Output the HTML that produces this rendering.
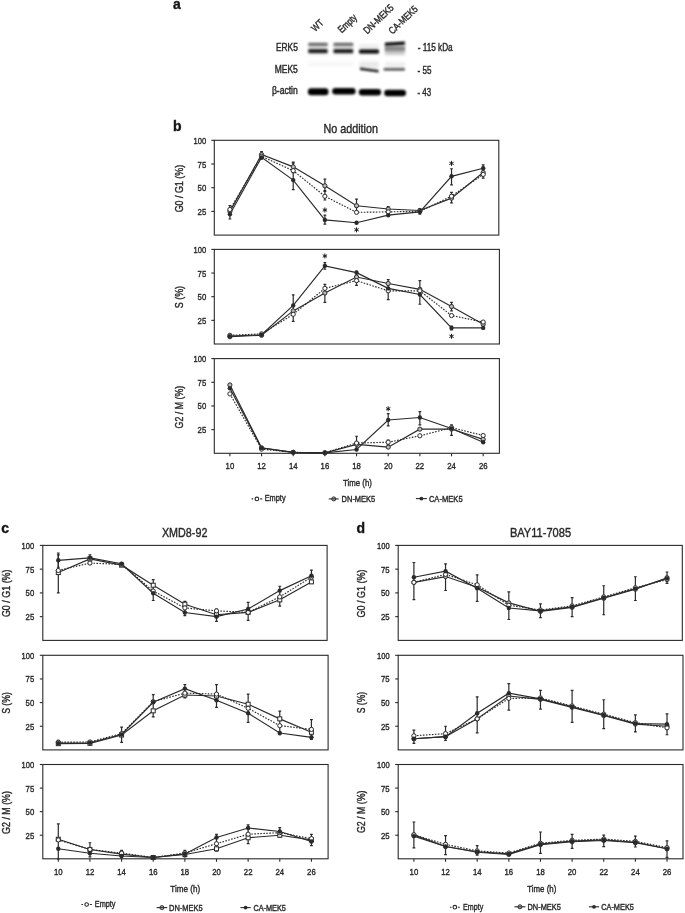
<!DOCTYPE html>
<html><head><meta charset="utf-8"><title>Figure</title><style>html,body{margin:0;padding:0;background:#fff;}body{width:685px;height:913px;overflow:hidden;font-family:"Liberation Sans",sans-serif;}svg{display:block;will-change:transform;}</style></head><body>
<svg width="685" height="913" viewBox="0 0 685 913" font-family="Liberation Sans, sans-serif" fill="#262626">
<rect width="685" height="913" fill="#fff"/>
<style>text{stroke:#2a2a2a;stroke-width:0.4px;}</style>
<defs><filter id="bl" x="-20%" y="-50%" width="140%" height="200%"><feGaussianBlur stdDeviation="0.85"/></filter><filter id="bl2" x="-20%" y="-50%" width="140%" height="200%"><feGaussianBlur stdDeviation="1.0"/></filter><filter id="bl3" x="-30%" y="-80%" width="160%" height="260%"><feGaussianBlur stdDeviation="1.6"/></filter></defs>
<g filter="url(#bl3)">
<rect x="308.3" y="42.5" width="19.3" height="12" fill="#d4d4d4"/>
<rect x="333.5" y="42.5" width="19.7" height="12" fill="#d4d4d4"/>
<rect x="359.0" y="44.5" width="20.0" height="10" fill="#ececec"/>
<rect x="385.0" y="43" width="19.8" height="12" fill="#c8c8c8"/>
<rect x="359.5" y="61.5" width="19" height="6.5" fill="#e9e9e9"/>
<rect x="385" y="62" width="20" height="6.5" fill="#efefef"/>
<rect x="308" y="61" width="46" height="6" fill="#f8f8f8"/>
</g>
<g filter="url(#bl)">
<rect x="308.3" y="43.0" width="19.3" height="2.8" rx="1.2" fill="#6a6a6a"/>
<rect x="308.3" y="49.2" width="19.3" height="3.7" rx="1.5" fill="#1a1a1a"/>
<rect x="333.5" y="43.0" width="19.7" height="2.8" rx="1.2" fill="#6a6a6a"/>
<rect x="333.5" y="49.2" width="19.7" height="3.7" rx="1.5" fill="#1a1a1a"/>
<rect x="359.0" y="49.6" width="20.0" height="3.9" rx="1.6" fill="#080808"/>
<path d="M385.0,42.7 L404.8,41.5 L404.8,44.8 L385.0,46.0 Z" fill="#0a0a0a"/>
<rect x="385.0" y="46.6" width="19.8" height="2.2" fill="#7c7c7c"/>
<rect x="385.0" y="48.8" width="19.8" height="2.4" fill="#8e8e8e"/>
<path d="M360,67.5 L378.5,69.9 L378.5,72.4 L360,70.0 Z" fill="#1e1e1e"/>
<rect x="383.5" y="67.9" width="21.5" height="2.8" rx="1" fill="#5e5e5e"/>
</g>
<g filter="url(#bl2)">
<rect x="307.9" y="88.3" width="20.6" height="6.9" rx="3.2" fill="#000"/>
<rect x="332.2" y="87.9" width="23.4" height="6.6" rx="3.2" fill="#000"/>
<rect x="358.8" y="89.0" width="22.3" height="6.4" rx="3.2" fill="#000"/>
<rect x="384.2" y="89.7" width="21.8" height="6.5" rx="3.2" fill="#000"/>
</g>
<text x="275.9" y="51" font-size="10" textLength="21.9" lengthAdjust="spacingAndGlyphs">ERK5</text>
<text x="274.7" y="73.3" font-size="10" textLength="23.1" lengthAdjust="spacingAndGlyphs">MEK5</text>
<text x="271.9" y="94.2" font-size="10" textLength="25.9" lengthAdjust="spacingAndGlyphs">β-actin</text>
<text x="417.7" y="51.4" font-size="10" textLength="35" lengthAdjust="spacingAndGlyphs">- 115 kDa</text>
<text x="417.5" y="73.8" font-size="10" textLength="13.9" lengthAdjust="spacingAndGlyphs">- 55</text>
<text x="417.5" y="96.2" font-size="10" textLength="13.6" lengthAdjust="spacingAndGlyphs">- 43</text>
<text x="315.3" y="32.3" font-size="10" textLength="12.3" lengthAdjust="spacingAndGlyphs" transform="rotate(-44 315.3 32.3)">WT</text>
<text x="341.8" y="33.6" font-size="10" textLength="22.0" lengthAdjust="spacingAndGlyphs" transform="rotate(-44 341.8 33.6)">Empty</text>
<text x="367.3" y="34.6" font-size="10" textLength="37.5" lengthAdjust="spacingAndGlyphs" transform="rotate(-44 367.3 34.6)">DN-MEK5</text>
<text x="392.5" y="34.8" font-size="10" textLength="36.0" lengthAdjust="spacingAndGlyphs" transform="rotate(-44 392.5 34.8)">CA-MEK5</text>
<text x="173" y="8.8" font-size="14" font-weight="bold" fill="#111">a</text>
<text x="173" y="130.9" font-size="14" font-weight="bold" fill="#111">b</text>
<text x="1.2" y="533" font-size="14" font-weight="bold" fill="#111">c</text>
<text x="356.5" y="532.8" font-size="14" font-weight="bold" fill="#111">d</text>
<rect x="214.3" y="140.3" width="284.5" height="94.8" fill="none" stroke="#2a2a2a" stroke-width="1.1"/>
<line x1="211.3" y1="140.3" x2="214.3" y2="140.3" stroke="#2a2a2a" stroke-width="1.1"/>
<text x="193.6" y="143.8" font-size="9.9" textLength="12.6" lengthAdjust="spacingAndGlyphs">100</text>
<line x1="211.3" y1="164" x2="214.3" y2="164" stroke="#2a2a2a" stroke-width="1.1"/>
<text x="197.6" y="167.5" font-size="9.9" textLength="8.6" lengthAdjust="spacingAndGlyphs">75</text>
<line x1="211.3" y1="187.7" x2="214.3" y2="187.7" stroke="#2a2a2a" stroke-width="1.1"/>
<text x="197.6" y="191.2" font-size="9.9" textLength="8.6" lengthAdjust="spacingAndGlyphs">50</text>
<line x1="211.3" y1="211.4" x2="214.3" y2="211.4" stroke="#2a2a2a" stroke-width="1.1"/>
<text x="197.6" y="214.9" font-size="9.9" textLength="8.6" lengthAdjust="spacingAndGlyphs">25</text>
<path d="M229.9,209.5 L261.56,156.42 L293.22,170.64 L324.88,196.23 L356.54,212.35 L388.2,211.87 L419.86,211.4 L451.52,196.23 L483.18,174.43" fill="none" stroke="#2a2a2a" stroke-width="1.15" stroke-dasharray="1.6 1.4"/>
<path d="M229.9,211.4 L261.56,154.52 L293.22,166.84 L324.88,185.8 L356.54,205.71 L388.2,209.03 L419.86,210.45 L451.52,198.13 L483.18,172.53" fill="none" stroke="#2a2a2a" stroke-width="1.15"/>
<path d="M229.9,214.24 L261.56,157.36 L293.22,180.12 L324.88,219.93 L356.54,222.78 L388.2,215.19 L419.86,211.87 L451.52,176.32 L483.18,168.27" fill="none" stroke="#2a2a2a" stroke-width="1.15"/>
<path d="M324.88,190.54 L324.88,200.02 M323.48,190.54 L326.28,190.54 M323.48,200.02 L326.28,200.02" stroke="#2a2a2a" stroke-width="1.2" fill="none"/>
<path d="M451.52,192.44 L451.52,202.87 M450.12,192.44 L452.92,192.44 M450.12,202.87 L452.92,202.87" stroke="#2a2a2a" stroke-width="1.2" fill="none"/>
<path d="M483.18,164.95 L483.18,178.22 M481.78,164.95 L484.58,164.95 M481.78,178.22 L484.58,178.22" stroke="#2a2a2a" stroke-width="1.2" fill="none"/>
<path d="M261.56,151.68 L261.56,159.26 M260.16,151.68 L262.96,151.68 M260.16,159.26 L262.96,159.26" stroke="#2a2a2a" stroke-width="1.2" fill="none"/>
<path d="M293.22,163.05 L293.22,172.53 M291.82,163.05 L294.62,163.05 M291.82,172.53 L294.62,172.53" stroke="#2a2a2a" stroke-width="1.2" fill="none"/>
<path d="M324.88,179.17 L324.88,191.49 M323.48,179.17 L326.28,179.17 M323.48,191.49 L326.28,191.49" stroke="#2a2a2a" stroke-width="1.2" fill="none"/>
<path d="M356.54,199.08 L356.54,212.35 M355.14,199.08 L357.94,199.08 M355.14,212.35 L357.94,212.35" stroke="#2a2a2a" stroke-width="1.2" fill="none"/>
<path d="M388.2,206.66 L388.2,212.35 M386.8,206.66 L389.6,206.66 M386.8,212.35 L389.6,212.35" stroke="#2a2a2a" stroke-width="1.2" fill="none"/>
<path d="M419.86,208.56 L419.86,214.24 M418.46,208.56 L421.26,208.56 M418.46,214.24 L421.26,214.24" stroke="#2a2a2a" stroke-width="1.2" fill="none"/>
<path d="M229.9,205.71 L229.9,218.98 M228.5,205.71 L231.3,205.71 M228.5,218.98 L231.3,218.98" stroke="#2a2a2a" stroke-width="1.2" fill="none"/>
<path d="M293.22,162.1 L293.22,189.6 M291.82,162.1 L294.62,162.1 M291.82,189.6 L294.62,189.6" stroke="#2a2a2a" stroke-width="1.2" fill="none"/>
<path d="M324.88,215.19 L324.88,224.2 M323.48,215.19 L326.28,215.19 M323.48,224.2 L326.28,224.2" stroke="#2a2a2a" stroke-width="1.2" fill="none"/>
<path d="M451.52,168.74 L451.52,184.86 M450.12,168.74 L452.92,168.74 M450.12,184.86 L452.92,184.86" stroke="#2a2a2a" stroke-width="1.2" fill="none"/>
<circle cx="229.9" cy="211.4" r="2.1" fill="#bbb" stroke="#2a2a2a" stroke-width="1"/>
<circle cx="261.56" cy="154.52" r="2.1" fill="#bbb" stroke="#2a2a2a" stroke-width="1"/>
<circle cx="293.22" cy="166.84" r="2.1" fill="#bbb" stroke="#2a2a2a" stroke-width="1"/>
<circle cx="324.88" cy="185.8" r="2.1" fill="#bbb" stroke="#2a2a2a" stroke-width="1"/>
<circle cx="356.54" cy="205.71" r="2.1" fill="#bbb" stroke="#2a2a2a" stroke-width="1"/>
<circle cx="388.2" cy="209.03" r="2.1" fill="#bbb" stroke="#2a2a2a" stroke-width="1"/>
<circle cx="419.86" cy="210.45" r="2.1" fill="#bbb" stroke="#2a2a2a" stroke-width="1"/>
<circle cx="451.52" cy="198.13" r="2.1" fill="#bbb" stroke="#2a2a2a" stroke-width="1"/>
<circle cx="483.18" cy="172.53" r="2.1" fill="#bbb" stroke="#2a2a2a" stroke-width="1"/>
<circle cx="229.9" cy="209.5" r="2.1" fill="#fff" stroke="#2a2a2a" stroke-width="1"/>
<circle cx="261.56" cy="156.42" r="2.1" fill="#fff" stroke="#2a2a2a" stroke-width="1"/>
<circle cx="293.22" cy="170.64" r="2.1" fill="#fff" stroke="#2a2a2a" stroke-width="1"/>
<circle cx="324.88" cy="196.23" r="2.1" fill="#fff" stroke="#2a2a2a" stroke-width="1"/>
<circle cx="356.54" cy="212.35" r="2.1" fill="#fff" stroke="#2a2a2a" stroke-width="1"/>
<circle cx="388.2" cy="211.87" r="2.1" fill="#fff" stroke="#2a2a2a" stroke-width="1"/>
<circle cx="419.86" cy="211.4" r="2.1" fill="#fff" stroke="#2a2a2a" stroke-width="1"/>
<circle cx="451.52" cy="196.23" r="2.1" fill="#fff" stroke="#2a2a2a" stroke-width="1"/>
<circle cx="483.18" cy="174.43" r="2.1" fill="#fff" stroke="#2a2a2a" stroke-width="1"/>
<circle cx="229.9" cy="214.24" r="2.2" fill="#2a2a2a"/>
<circle cx="261.56" cy="157.36" r="2.2" fill="#2a2a2a"/>
<circle cx="293.22" cy="180.12" r="2.2" fill="#2a2a2a"/>
<circle cx="324.88" cy="219.93" r="2.2" fill="#2a2a2a"/>
<circle cx="356.54" cy="222.78" r="2.2" fill="#2a2a2a"/>
<circle cx="388.2" cy="215.19" r="2.2" fill="#2a2a2a"/>
<circle cx="419.86" cy="211.87" r="2.2" fill="#2a2a2a"/>
<circle cx="451.52" cy="176.32" r="2.2" fill="#2a2a2a"/>
<circle cx="483.18" cy="168.27" r="2.2" fill="#2a2a2a"/>
<rect x="214.3" y="249.4" width="285.1" height="94.6" fill="none" stroke="#2a2a2a" stroke-width="1.1"/>
<line x1="211.3" y1="249.4" x2="214.3" y2="249.4" stroke="#2a2a2a" stroke-width="1.1"/>
<text x="193.6" y="252.9" font-size="9.9" textLength="12.6" lengthAdjust="spacingAndGlyphs">100</text>
<line x1="211.3" y1="273.05" x2="214.3" y2="273.05" stroke="#2a2a2a" stroke-width="1.1"/>
<text x="197.6" y="276.55" font-size="9.9" textLength="8.6" lengthAdjust="spacingAndGlyphs">75</text>
<line x1="211.3" y1="296.7" x2="214.3" y2="296.7" stroke="#2a2a2a" stroke-width="1.1"/>
<text x="197.6" y="300.2" font-size="9.9" textLength="8.6" lengthAdjust="spacingAndGlyphs">50</text>
<line x1="211.3" y1="320.35" x2="214.3" y2="320.35" stroke="#2a2a2a" stroke-width="1.1"/>
<text x="197.6" y="323.85" font-size="9.9" textLength="8.6" lengthAdjust="spacingAndGlyphs">25</text>
<path d="M229.9,335.3 L261.56,333.88 L293.22,314.3 L324.88,288.38 L356.54,280.62 L388.2,290.83 L419.86,290.83 L451.52,315.53 L483.18,322.05" fill="none" stroke="#2a2a2a" stroke-width="1.15" stroke-dasharray="1.6 1.4"/>
<path d="M229.9,336.72 L261.56,335.3 L293.22,310.89 L324.88,293.01 L356.54,277.02 L388.2,283.55 L419.86,289.32 L451.52,306.54 L483.18,324.32" fill="none" stroke="#2a2a2a" stroke-width="1.15"/>
<path d="M229.9,336.15 L261.56,334.73 L293.22,305.4 L324.88,265.86 L356.54,272.67 L388.2,288.38 L419.86,294.52 L451.52,327.92 L483.18,327.92" fill="none" stroke="#2a2a2a" stroke-width="1.15"/>
<path d="M293.22,294.81 L293.22,321.3 M291.82,294.81 L294.62,294.81 M291.82,321.3 L294.62,321.3" stroke="#2a2a2a" stroke-width="1.2" fill="none"/>
<path d="M324.88,284.4 L324.88,302.38 M323.48,284.4 L326.28,284.4 M323.48,302.38 L326.28,302.38" stroke="#2a2a2a" stroke-width="1.2" fill="none"/>
<path d="M356.54,271.16 L356.54,285.35 M355.14,271.16 L357.94,271.16 M355.14,285.35 L357.94,285.35" stroke="#2a2a2a" stroke-width="1.2" fill="none"/>
<path d="M388.2,279.67 L388.2,299.54 M386.8,279.67 L389.6,279.67 M386.8,299.54 L389.6,299.54" stroke="#2a2a2a" stroke-width="1.2" fill="none"/>
<path d="M419.86,280.62 L419.86,304.27 M418.46,280.62 L421.26,280.62 M418.46,304.27 L421.26,304.27" stroke="#2a2a2a" stroke-width="1.2" fill="none"/>
<path d="M451.52,302.38 L451.52,310.89 M450.12,302.38 L452.92,302.38 M450.12,310.89 L452.92,310.89" stroke="#2a2a2a" stroke-width="1.2" fill="none"/>
<path d="M324.88,262.64 L324.88,269.27 M323.48,262.64 L326.28,262.64 M323.48,269.27 L326.28,269.27" stroke="#2a2a2a" stroke-width="1.2" fill="none"/>
<path d="M451.52,326.03 L451.52,329.81 M450.12,326.03 L452.92,326.03 M450.12,329.81 L452.92,329.81" stroke="#2a2a2a" stroke-width="1.2" fill="none"/>
<circle cx="229.9" cy="336.72" r="2.1" fill="#bbb" stroke="#2a2a2a" stroke-width="1"/>
<circle cx="261.56" cy="335.3" r="2.1" fill="#bbb" stroke="#2a2a2a" stroke-width="1"/>
<circle cx="293.22" cy="310.89" r="2.1" fill="#bbb" stroke="#2a2a2a" stroke-width="1"/>
<circle cx="324.88" cy="293.01" r="2.1" fill="#bbb" stroke="#2a2a2a" stroke-width="1"/>
<circle cx="356.54" cy="277.02" r="2.1" fill="#bbb" stroke="#2a2a2a" stroke-width="1"/>
<circle cx="388.2" cy="283.55" r="2.1" fill="#bbb" stroke="#2a2a2a" stroke-width="1"/>
<circle cx="419.86" cy="289.32" r="2.1" fill="#bbb" stroke="#2a2a2a" stroke-width="1"/>
<circle cx="451.52" cy="306.54" r="2.1" fill="#bbb" stroke="#2a2a2a" stroke-width="1"/>
<circle cx="483.18" cy="324.32" r="2.1" fill="#bbb" stroke="#2a2a2a" stroke-width="1"/>
<circle cx="229.9" cy="335.3" r="2.1" fill="#fff" stroke="#2a2a2a" stroke-width="1"/>
<circle cx="261.56" cy="333.88" r="2.1" fill="#fff" stroke="#2a2a2a" stroke-width="1"/>
<circle cx="293.22" cy="314.3" r="2.1" fill="#fff" stroke="#2a2a2a" stroke-width="1"/>
<circle cx="324.88" cy="288.38" r="2.1" fill="#fff" stroke="#2a2a2a" stroke-width="1"/>
<circle cx="356.54" cy="280.62" r="2.1" fill="#fff" stroke="#2a2a2a" stroke-width="1"/>
<circle cx="388.2" cy="290.83" r="2.1" fill="#fff" stroke="#2a2a2a" stroke-width="1"/>
<circle cx="419.86" cy="290.83" r="2.1" fill="#fff" stroke="#2a2a2a" stroke-width="1"/>
<circle cx="451.52" cy="315.53" r="2.1" fill="#fff" stroke="#2a2a2a" stroke-width="1"/>
<circle cx="483.18" cy="322.05" r="2.1" fill="#fff" stroke="#2a2a2a" stroke-width="1"/>
<circle cx="229.9" cy="336.15" r="2.2" fill="#2a2a2a"/>
<circle cx="261.56" cy="334.73" r="2.2" fill="#2a2a2a"/>
<circle cx="293.22" cy="305.4" r="2.2" fill="#2a2a2a"/>
<circle cx="324.88" cy="265.86" r="2.2" fill="#2a2a2a"/>
<circle cx="356.54" cy="272.67" r="2.2" fill="#2a2a2a"/>
<circle cx="388.2" cy="288.38" r="2.2" fill="#2a2a2a"/>
<circle cx="419.86" cy="294.52" r="2.2" fill="#2a2a2a"/>
<circle cx="451.52" cy="327.92" r="2.2" fill="#2a2a2a"/>
<circle cx="483.18" cy="327.92" r="2.2" fill="#2a2a2a"/>
<rect x="214.3" y="358.6" width="285.1" height="94.7" fill="none" stroke="#2a2a2a" stroke-width="1.1"/>
<line x1="211.3" y1="358.6" x2="214.3" y2="358.6" stroke="#2a2a2a" stroke-width="1.1"/>
<text x="193.6" y="362.1" font-size="9.9" textLength="12.6" lengthAdjust="spacingAndGlyphs">100</text>
<line x1="211.3" y1="382.28" x2="214.3" y2="382.28" stroke="#2a2a2a" stroke-width="1.1"/>
<text x="197.6" y="385.78" font-size="9.9" textLength="8.6" lengthAdjust="spacingAndGlyphs">75</text>
<line x1="211.3" y1="405.95" x2="214.3" y2="405.95" stroke="#2a2a2a" stroke-width="1.1"/>
<text x="197.6" y="409.45" font-size="9.9" textLength="8.6" lengthAdjust="spacingAndGlyphs">50</text>
<line x1="211.3" y1="429.62" x2="214.3" y2="429.62" stroke="#2a2a2a" stroke-width="1.1"/>
<text x="197.6" y="433.12" font-size="9.9" textLength="8.6" lengthAdjust="spacingAndGlyphs">25</text>
<line x1="229.9" y1="453.3" x2="229.9" y2="456.3" stroke="#2a2a2a" stroke-width="1.1"/>
<text x="225.6" y="469.4" font-size="9.9" textLength="8.6" lengthAdjust="spacingAndGlyphs">10</text>
<line x1="261.56" y1="453.3" x2="261.56" y2="456.3" stroke="#2a2a2a" stroke-width="1.1"/>
<text x="257.26" y="469.4" font-size="9.9" textLength="8.6" lengthAdjust="spacingAndGlyphs">12</text>
<line x1="293.22" y1="453.3" x2="293.22" y2="456.3" stroke="#2a2a2a" stroke-width="1.1"/>
<text x="288.92" y="469.4" font-size="9.9" textLength="8.6" lengthAdjust="spacingAndGlyphs">14</text>
<line x1="324.88" y1="453.3" x2="324.88" y2="456.3" stroke="#2a2a2a" stroke-width="1.1"/>
<text x="320.58" y="469.4" font-size="9.9" textLength="8.6" lengthAdjust="spacingAndGlyphs">16</text>
<line x1="356.54" y1="453.3" x2="356.54" y2="456.3" stroke="#2a2a2a" stroke-width="1.1"/>
<text x="352.24" y="469.4" font-size="9.9" textLength="8.6" lengthAdjust="spacingAndGlyphs">18</text>
<line x1="388.2" y1="453.3" x2="388.2" y2="456.3" stroke="#2a2a2a" stroke-width="1.1"/>
<text x="383.9" y="469.4" font-size="9.9" textLength="8.6" lengthAdjust="spacingAndGlyphs">20</text>
<line x1="419.86" y1="453.3" x2="419.86" y2="456.3" stroke="#2a2a2a" stroke-width="1.1"/>
<text x="415.56" y="469.4" font-size="9.9" textLength="8.6" lengthAdjust="spacingAndGlyphs">22</text>
<line x1="451.52" y1="453.3" x2="451.52" y2="456.3" stroke="#2a2a2a" stroke-width="1.1"/>
<text x="447.22" y="469.4" font-size="9.9" textLength="8.6" lengthAdjust="spacingAndGlyphs">24</text>
<line x1="483.18" y1="453.3" x2="483.18" y2="456.3" stroke="#2a2a2a" stroke-width="1.1"/>
<text x="478.88" y="469.4" font-size="9.9" textLength="8.6" lengthAdjust="spacingAndGlyphs">26</text>
<path d="M229.9,393.92 L261.56,449.13 L293.22,452.35 L324.88,452.83 L356.54,443.07 L388.2,442.22 L419.86,435.78 L451.52,427.64 L483.18,435.5" fill="none" stroke="#2a2a2a" stroke-width="1.15" stroke-dasharray="1.6 1.4"/>
<path d="M229.9,384.93 L261.56,447.81 L293.22,452.35 L324.88,452.83 L356.54,444.4 L388.2,447.14 L419.86,429.15 L451.52,429.06 L483.18,439.38" fill="none" stroke="#2a2a2a" stroke-width="1.15"/>
<path d="M229.9,388.34 L261.56,448.09 L293.22,452.35 L324.88,452.83 L356.54,449.51 L388.2,419.97 L419.86,417.5 L451.52,428.49 L483.18,442.22" fill="none" stroke="#2a2a2a" stroke-width="1.15"/>
<path d="M356.54,436.25 L356.54,450.46 M355.14,436.25 L357.94,436.25 M355.14,450.46 L357.94,450.46" stroke="#2a2a2a" stroke-width="1.2" fill="none"/>
<path d="M388.2,440.04 L388.2,444.78 M386.8,440.04 L389.6,440.04 M386.8,444.78 L389.6,444.78" stroke="#2a2a2a" stroke-width="1.2" fill="none"/>
<path d="M451.52,424.89 L451.52,435.31 M450.12,424.89 L452.92,424.89 M450.12,435.31 L452.92,435.31" stroke="#2a2a2a" stroke-width="1.2" fill="none"/>
<path d="M388.2,413.53 L388.2,425.84 M386.8,413.53 L389.6,413.53 M386.8,425.84 L389.6,425.84" stroke="#2a2a2a" stroke-width="1.2" fill="none"/>
<path d="M419.86,411.63 L419.86,424.89 M418.46,411.63 L421.26,411.63 M418.46,424.89 L421.26,424.89" stroke="#2a2a2a" stroke-width="1.2" fill="none"/>
<circle cx="229.9" cy="384.93" r="2.1" fill="#bbb" stroke="#2a2a2a" stroke-width="1"/>
<circle cx="261.56" cy="447.81" r="2.1" fill="#bbb" stroke="#2a2a2a" stroke-width="1"/>
<circle cx="293.22" cy="452.35" r="2.1" fill="#bbb" stroke="#2a2a2a" stroke-width="1"/>
<circle cx="324.88" cy="452.83" r="2.1" fill="#bbb" stroke="#2a2a2a" stroke-width="1"/>
<circle cx="356.54" cy="444.4" r="2.1" fill="#bbb" stroke="#2a2a2a" stroke-width="1"/>
<circle cx="388.2" cy="447.14" r="2.1" fill="#bbb" stroke="#2a2a2a" stroke-width="1"/>
<circle cx="419.86" cy="429.15" r="2.1" fill="#bbb" stroke="#2a2a2a" stroke-width="1"/>
<circle cx="451.52" cy="429.06" r="2.1" fill="#bbb" stroke="#2a2a2a" stroke-width="1"/>
<circle cx="483.18" cy="439.38" r="2.1" fill="#bbb" stroke="#2a2a2a" stroke-width="1"/>
<circle cx="229.9" cy="393.92" r="2.1" fill="#fff" stroke="#2a2a2a" stroke-width="1"/>
<circle cx="261.56" cy="449.13" r="2.1" fill="#fff" stroke="#2a2a2a" stroke-width="1"/>
<circle cx="293.22" cy="452.35" r="2.1" fill="#fff" stroke="#2a2a2a" stroke-width="1"/>
<circle cx="324.88" cy="452.83" r="2.1" fill="#fff" stroke="#2a2a2a" stroke-width="1"/>
<circle cx="356.54" cy="443.07" r="2.1" fill="#fff" stroke="#2a2a2a" stroke-width="1"/>
<circle cx="388.2" cy="442.22" r="2.1" fill="#fff" stroke="#2a2a2a" stroke-width="1"/>
<circle cx="419.86" cy="435.78" r="2.1" fill="#fff" stroke="#2a2a2a" stroke-width="1"/>
<circle cx="451.52" cy="427.64" r="2.1" fill="#fff" stroke="#2a2a2a" stroke-width="1"/>
<circle cx="483.18" cy="435.5" r="2.1" fill="#fff" stroke="#2a2a2a" stroke-width="1"/>
<circle cx="229.9" cy="388.34" r="2.2" fill="#2a2a2a"/>
<circle cx="261.56" cy="448.09" r="2.2" fill="#2a2a2a"/>
<circle cx="293.22" cy="452.35" r="2.2" fill="#2a2a2a"/>
<circle cx="324.88" cy="452.83" r="2.2" fill="#2a2a2a"/>
<circle cx="356.54" cy="449.51" r="2.2" fill="#2a2a2a"/>
<circle cx="388.2" cy="419.97" r="2.2" fill="#2a2a2a"/>
<circle cx="419.86" cy="417.5" r="2.2" fill="#2a2a2a"/>
<circle cx="451.52" cy="428.49" r="2.2" fill="#2a2a2a"/>
<circle cx="483.18" cy="442.22" r="2.2" fill="#2a2a2a"/>
<text x="323.4" y="133.4" font-size="13.4" textLength="54.6" lengthAdjust="spacingAndGlyphs">No addition</text>
<text x="183.3" y="188.6" font-size="11" text-anchor="middle" textLength="47.5" lengthAdjust="spacingAndGlyphs" transform="rotate(-90 183.3 188.6)">G0 / G1 (%)</text>
<text x="183.3" y="297.1" font-size="11" text-anchor="middle" textLength="22.4" lengthAdjust="spacingAndGlyphs" transform="rotate(-90 183.3 297.1)">S (%)</text>
<text x="183.3" y="407.15" font-size="11" text-anchor="middle" textLength="42.6" lengthAdjust="spacingAndGlyphs" transform="rotate(-90 183.3 407.15)">G2 / M (%)</text>
<text x="343.1" y="486.1" font-size="9.9" textLength="28.8" lengthAdjust="spacingAndGlyphs">Time (h)</text>
<path d="M251.6,498.9 L253.2,498.9 M260.2,498.9 L262.2,498.9" stroke="#2a2a2a" stroke-width="1.1"/>
<circle cx="256.9" cy="498.9" r="1.8" fill="#fff" stroke="#2a2a2a" stroke-width="1.1"/>
<text x="264.7" y="501.4" font-size="9.3" textLength="20.9" lengthAdjust="spacingAndGlyphs">Empty</text>
<line x1="328.8" y1="498.9" x2="338.7" y2="498.9" stroke="#2a2a2a" stroke-width="1.1"/>
<circle cx="333.75" cy="498.9" r="2" fill="#bbb" stroke="#2a2a2a" stroke-width="1"/>
<line x1="331.75" y1="498.9" x2="335.75" y2="498.9" stroke="#2a2a2a" stroke-width="1"/>
<text x="341.6" y="501.6" font-size="9.3" textLength="33.6" lengthAdjust="spacingAndGlyphs">DN-MEK5</text>
<line x1="415.9" y1="498.6" x2="426.9" y2="498.6" stroke="#2a2a2a" stroke-width="1.1"/>
<circle cx="421.4" cy="498.6" r="1.9" fill="#2a2a2a"/>
<text x="428.9" y="501.8" font-size="9.3" textLength="33.7" lengthAdjust="spacingAndGlyphs">CA-MEK5</text>
<path d="M324.88,207.5 L324.88,212.5 M322.71,208.75 L327.05,211.25 M322.71,211.25 L327.05,208.75" stroke="#1a1a1a" stroke-width="1.0" fill="none"/>
<path d="M356.54,227.3 L356.54,232.3 M354.37,228.55 L358.71,231.05 M354.37,231.05 L358.71,228.55" stroke="#1a1a1a" stroke-width="1.0" fill="none"/>
<path d="M451.52,160.9 L451.52,165.9 M449.35,162.15 L453.69,164.65 M449.35,164.65 L453.69,162.15" stroke="#1a1a1a" stroke-width="1.0" fill="none"/>
<path d="M324.88,253.5 L324.88,258.5 M322.71,254.75 L327.05,257.25 M322.71,257.25 L327.05,254.75" stroke="#1a1a1a" stroke-width="1.0" fill="none"/>
<path d="M451.52,333.8 L451.52,338.8 M449.35,335.05 L453.69,337.55 M449.35,337.55 L453.69,335.05" stroke="#1a1a1a" stroke-width="1.0" fill="none"/>
<path d="M388.2,406.3 L388.2,411.3 M386.03,407.55 L390.37,410.05 M386.03,410.05 L390.37,407.55" stroke="#1a1a1a" stroke-width="1.0" fill="none"/>
<rect x="42.8" y="545.4" width="284.3" height="95" fill="none" stroke="#2a2a2a" stroke-width="1.1"/>
<line x1="39.8" y1="545.4" x2="42.8" y2="545.4" stroke="#2a2a2a" stroke-width="1.1"/>
<text x="21.6" y="548.9" font-size="9.9" textLength="12.6" lengthAdjust="spacingAndGlyphs">100</text>
<line x1="39.8" y1="569.15" x2="42.8" y2="569.15" stroke="#2a2a2a" stroke-width="1.1"/>
<text x="25.6" y="572.65" font-size="9.9" textLength="8.6" lengthAdjust="spacingAndGlyphs">75</text>
<line x1="39.8" y1="592.9" x2="42.8" y2="592.9" stroke="#2a2a2a" stroke-width="1.1"/>
<text x="25.6" y="596.4" font-size="9.9" textLength="8.6" lengthAdjust="spacingAndGlyphs">50</text>
<line x1="39.8" y1="616.65" x2="42.8" y2="616.65" stroke="#2a2a2a" stroke-width="1.1"/>
<text x="25.6" y="620.15" font-size="9.9" textLength="8.6" lengthAdjust="spacingAndGlyphs">25</text>
<path d="M58.3,570.48 L89.94,563.07 L121.58,564.4 L153.22,591 L184.86,607.91 L216.5,610.86 L248.14,612.38 L279.78,596.89 L311.42,577.13" fill="none" stroke="#2a2a2a" stroke-width="1.15" stroke-dasharray="1.6 1.4"/>
<path d="M58.3,572.57 L89.94,558.89 L121.58,565.16 L153.22,585.2 L184.86,604.2 L216.5,614.75 L248.14,612.38 L279.78,599.83 L311.42,581.88" fill="none" stroke="#2a2a2a" stroke-width="1.15"/>
<path d="M58.3,560.31 L89.94,557.85 L121.58,563.74 L153.22,593.28 L184.86,612.56 L216.5,616.65 L248.14,608.95 L279.78,590.62 L311.42,575.8" fill="none" stroke="#2a2a2a" stroke-width="1.15"/>
<path d="M58.3,554.9 L58.3,592.9 M56.9,554.9 L59.7,554.9 M56.9,592.9 L59.7,592.9" stroke="#2a2a2a" stroke-width="1.2" fill="none"/>
<path d="M89.94,554.9 L89.94,564.4 M88.54,554.9 L91.34,554.9 M88.54,564.4 L91.34,564.4" stroke="#2a2a2a" stroke-width="1.2" fill="none"/>
<path d="M153.22,579.6 L153.22,600.5 M151.82,579.6 L154.62,579.6 M151.82,600.5 L154.62,600.5" stroke="#2a2a2a" stroke-width="1.2" fill="none"/>
<path d="M184.86,601.45 L184.86,615.7 M183.46,601.45 L186.26,601.45 M183.46,615.7 L186.26,615.7" stroke="#2a2a2a" stroke-width="1.2" fill="none"/>
<path d="M216.5,609.05 L216.5,621.4 M215.1,609.05 L217.9,609.05 M215.1,621.4 L217.9,621.4" stroke="#2a2a2a" stroke-width="1.2" fill="none"/>
<path d="M248.14,602.4 L248.14,620.45 M246.74,602.4 L249.54,602.4 M246.74,620.45 L249.54,620.45" stroke="#2a2a2a" stroke-width="1.2" fill="none"/>
<path d="M279.78,586.25 L279.78,606.2 M278.38,586.25 L281.18,586.25 M278.38,606.2 L281.18,606.2" stroke="#2a2a2a" stroke-width="1.2" fill="none"/>
<path d="M311.42,570.1 L311.42,583.4 M310.02,570.1 L312.82,570.1 M310.02,583.4 L312.82,583.4" stroke="#2a2a2a" stroke-width="1.2" fill="none"/>
<path d="M58.3,553 L58.3,567.25 M56.9,553 L59.7,553 M56.9,567.25 L59.7,567.25" stroke="#2a2a2a" stroke-width="1.2" fill="none"/>
<rect x="56.3" y="570.57" width="4" height="4" fill="#fff" stroke="#2a2a2a" stroke-width="1"/>
<rect x="87.94" y="556.89" width="4" height="4" fill="#fff" stroke="#2a2a2a" stroke-width="1"/>
<rect x="119.58" y="563.16" width="4" height="4" fill="#fff" stroke="#2a2a2a" stroke-width="1"/>
<rect x="151.22" y="583.2" width="4" height="4" fill="#fff" stroke="#2a2a2a" stroke-width="1"/>
<rect x="182.86" y="602.2" width="4" height="4" fill="#fff" stroke="#2a2a2a" stroke-width="1"/>
<rect x="214.5" y="612.75" width="4" height="4" fill="#fff" stroke="#2a2a2a" stroke-width="1"/>
<rect x="246.14" y="610.38" width="4" height="4" fill="#fff" stroke="#2a2a2a" stroke-width="1"/>
<rect x="277.78" y="597.83" width="4" height="4" fill="#fff" stroke="#2a2a2a" stroke-width="1"/>
<rect x="309.42" y="579.88" width="4" height="4" fill="#fff" stroke="#2a2a2a" stroke-width="1"/>
<circle cx="58.3" cy="570.48" r="2.1" fill="#fff" stroke="#2a2a2a" stroke-width="1"/>
<circle cx="89.94" cy="563.07" r="2.1" fill="#fff" stroke="#2a2a2a" stroke-width="1"/>
<circle cx="121.58" cy="564.4" r="2.1" fill="#fff" stroke="#2a2a2a" stroke-width="1"/>
<circle cx="153.22" cy="591" r="2.1" fill="#fff" stroke="#2a2a2a" stroke-width="1"/>
<circle cx="184.86" cy="607.91" r="2.1" fill="#fff" stroke="#2a2a2a" stroke-width="1"/>
<circle cx="216.5" cy="610.86" r="2.1" fill="#fff" stroke="#2a2a2a" stroke-width="1"/>
<circle cx="248.14" cy="612.38" r="2.1" fill="#fff" stroke="#2a2a2a" stroke-width="1"/>
<circle cx="279.78" cy="596.89" r="2.1" fill="#fff" stroke="#2a2a2a" stroke-width="1"/>
<circle cx="311.42" cy="577.13" r="2.1" fill="#fff" stroke="#2a2a2a" stroke-width="1"/>
<circle cx="58.3" cy="560.31" r="2.2" fill="#2a2a2a"/>
<circle cx="89.94" cy="557.85" r="2.2" fill="#2a2a2a"/>
<circle cx="121.58" cy="563.74" r="2.2" fill="#2a2a2a"/>
<circle cx="153.22" cy="593.28" r="2.2" fill="#2a2a2a"/>
<circle cx="184.86" cy="612.56" r="2.2" fill="#2a2a2a"/>
<circle cx="216.5" cy="616.65" r="2.2" fill="#2a2a2a"/>
<circle cx="248.14" cy="608.95" r="2.2" fill="#2a2a2a"/>
<circle cx="279.78" cy="590.62" r="2.2" fill="#2a2a2a"/>
<circle cx="311.42" cy="575.8" r="2.2" fill="#2a2a2a"/>
<rect x="42.8" y="655.3" width="285.3" height="94.6" fill="none" stroke="#2a2a2a" stroke-width="1.1"/>
<line x1="39.8" y1="655.3" x2="42.8" y2="655.3" stroke="#2a2a2a" stroke-width="1.1"/>
<text x="21.6" y="658.8" font-size="9.9" textLength="12.6" lengthAdjust="spacingAndGlyphs">100</text>
<line x1="39.8" y1="678.95" x2="42.8" y2="678.95" stroke="#2a2a2a" stroke-width="1.1"/>
<text x="25.6" y="682.45" font-size="9.9" textLength="8.6" lengthAdjust="spacingAndGlyphs">75</text>
<line x1="39.8" y1="702.6" x2="42.8" y2="702.6" stroke="#2a2a2a" stroke-width="1.1"/>
<text x="25.6" y="706.1" font-size="9.9" textLength="8.6" lengthAdjust="spacingAndGlyphs">50</text>
<line x1="39.8" y1="726.25" x2="42.8" y2="726.25" stroke="#2a2a2a" stroke-width="1.1"/>
<text x="25.6" y="729.75" font-size="9.9" textLength="8.6" lengthAdjust="spacingAndGlyphs">25</text>
<path d="M58.3,742.24 L89.94,741.95 L121.58,733.63 L153.22,701.65 L184.86,693.14 L216.5,694.09 L248.14,708.28 L279.78,725.68 L311.42,729.37" fill="none" stroke="#2a2a2a" stroke-width="1.15" stroke-dasharray="1.6 1.4"/>
<path d="M58.3,743.66 L89.94,743.37 L121.58,735.05 L153.22,710.83 L184.86,695.03 L216.5,695.98 L248.14,704.21 L279.78,718.87 L311.42,732.3" fill="none" stroke="#2a2a2a" stroke-width="1.15"/>
<path d="M58.3,743.09 L89.94,742.8 L121.58,734.48 L153.22,702.32 L184.86,688.6 L216.5,700.24 L248.14,713.29 L279.78,732.97 L311.42,737.32" fill="none" stroke="#2a2a2a" stroke-width="1.15"/>
<path d="M58.3,740.44 L58.3,745.17 M56.9,740.44 L59.7,740.44 M56.9,745.17 L59.7,745.17" stroke="#2a2a2a" stroke-width="1.2" fill="none"/>
<path d="M121.58,727.2 L121.58,742.33 M120.18,727.2 L122.98,727.2 M120.18,742.33 L122.98,742.33" stroke="#2a2a2a" stroke-width="1.2" fill="none"/>
<path d="M153.22,694.56 L153.22,716.79 M151.82,694.56 L154.62,694.56 M151.82,716.79 L154.62,716.79" stroke="#2a2a2a" stroke-width="1.2" fill="none"/>
<path d="M184.86,684.63 L184.86,697.87 M183.46,684.63 L186.26,684.63 M183.46,697.87 L186.26,697.87" stroke="#2a2a2a" stroke-width="1.2" fill="none"/>
<path d="M216.5,684.63 L216.5,707.33 M215.1,684.63 L217.9,684.63 M215.1,707.33 L217.9,707.33" stroke="#2a2a2a" stroke-width="1.2" fill="none"/>
<path d="M248.14,694.09 L248.14,722.47 M246.74,694.09 L249.54,694.09 M246.74,722.47 L249.54,722.47" stroke="#2a2a2a" stroke-width="1.2" fill="none"/>
<path d="M279.78,711.11 L279.78,734.76 M278.38,711.11 L281.18,711.11 M278.38,734.76 L281.18,734.76" stroke="#2a2a2a" stroke-width="1.2" fill="none"/>
<path d="M311.42,719.63 L311.42,739.49 M310.02,719.63 L312.82,719.63 M310.02,739.49 L312.82,739.49" stroke="#2a2a2a" stroke-width="1.2" fill="none"/>
<rect x="56.3" y="741.66" width="4" height="4" fill="#fff" stroke="#2a2a2a" stroke-width="1"/>
<rect x="87.94" y="741.37" width="4" height="4" fill="#fff" stroke="#2a2a2a" stroke-width="1"/>
<rect x="119.58" y="733.05" width="4" height="4" fill="#fff" stroke="#2a2a2a" stroke-width="1"/>
<rect x="151.22" y="708.83" width="4" height="4" fill="#fff" stroke="#2a2a2a" stroke-width="1"/>
<rect x="182.86" y="693.03" width="4" height="4" fill="#fff" stroke="#2a2a2a" stroke-width="1"/>
<rect x="214.5" y="693.98" width="4" height="4" fill="#fff" stroke="#2a2a2a" stroke-width="1"/>
<rect x="246.14" y="702.21" width="4" height="4" fill="#fff" stroke="#2a2a2a" stroke-width="1"/>
<rect x="277.78" y="716.87" width="4" height="4" fill="#fff" stroke="#2a2a2a" stroke-width="1"/>
<rect x="309.42" y="730.3" width="4" height="4" fill="#fff" stroke="#2a2a2a" stroke-width="1"/>
<circle cx="58.3" cy="742.24" r="2.1" fill="#fff" stroke="#2a2a2a" stroke-width="1"/>
<circle cx="89.94" cy="741.95" r="2.1" fill="#fff" stroke="#2a2a2a" stroke-width="1"/>
<circle cx="121.58" cy="733.63" r="2.1" fill="#fff" stroke="#2a2a2a" stroke-width="1"/>
<circle cx="153.22" cy="701.65" r="2.1" fill="#fff" stroke="#2a2a2a" stroke-width="1"/>
<circle cx="184.86" cy="693.14" r="2.1" fill="#fff" stroke="#2a2a2a" stroke-width="1"/>
<circle cx="216.5" cy="694.09" r="2.1" fill="#fff" stroke="#2a2a2a" stroke-width="1"/>
<circle cx="248.14" cy="708.28" r="2.1" fill="#fff" stroke="#2a2a2a" stroke-width="1"/>
<circle cx="279.78" cy="725.68" r="2.1" fill="#fff" stroke="#2a2a2a" stroke-width="1"/>
<circle cx="311.42" cy="729.37" r="2.1" fill="#fff" stroke="#2a2a2a" stroke-width="1"/>
<circle cx="58.3" cy="743.09" r="2.2" fill="#2a2a2a"/>
<circle cx="89.94" cy="742.8" r="2.2" fill="#2a2a2a"/>
<circle cx="121.58" cy="734.48" r="2.2" fill="#2a2a2a"/>
<circle cx="153.22" cy="702.32" r="2.2" fill="#2a2a2a"/>
<circle cx="184.86" cy="688.6" r="2.2" fill="#2a2a2a"/>
<circle cx="216.5" cy="700.24" r="2.2" fill="#2a2a2a"/>
<circle cx="248.14" cy="713.29" r="2.2" fill="#2a2a2a"/>
<circle cx="279.78" cy="732.97" r="2.2" fill="#2a2a2a"/>
<circle cx="311.42" cy="737.32" r="2.2" fill="#2a2a2a"/>
<rect x="42.8" y="764.5" width="285.3" height="94.3" fill="none" stroke="#2a2a2a" stroke-width="1.1"/>
<line x1="39.8" y1="764.5" x2="42.8" y2="764.5" stroke="#2a2a2a" stroke-width="1.1"/>
<text x="21.6" y="768" font-size="9.9" textLength="12.6" lengthAdjust="spacingAndGlyphs">100</text>
<line x1="39.8" y1="788.08" x2="42.8" y2="788.08" stroke="#2a2a2a" stroke-width="1.1"/>
<text x="25.6" y="791.58" font-size="9.9" textLength="8.6" lengthAdjust="spacingAndGlyphs">75</text>
<line x1="39.8" y1="811.65" x2="42.8" y2="811.65" stroke="#2a2a2a" stroke-width="1.1"/>
<text x="25.6" y="815.15" font-size="9.9" textLength="8.6" lengthAdjust="spacingAndGlyphs">50</text>
<line x1="39.8" y1="835.22" x2="42.8" y2="835.22" stroke="#2a2a2a" stroke-width="1.1"/>
<text x="25.6" y="838.72" font-size="9.9" textLength="8.6" lengthAdjust="spacingAndGlyphs">25</text>
<line x1="58.3" y1="858.8" x2="58.3" y2="861.8" stroke="#2a2a2a" stroke-width="1.1"/>
<text x="54" y="874.9" font-size="9.9" textLength="8.6" lengthAdjust="spacingAndGlyphs">10</text>
<line x1="89.94" y1="858.8" x2="89.94" y2="861.8" stroke="#2a2a2a" stroke-width="1.1"/>
<text x="85.64" y="874.9" font-size="9.9" textLength="8.6" lengthAdjust="spacingAndGlyphs">12</text>
<line x1="121.58" y1="858.8" x2="121.58" y2="861.8" stroke="#2a2a2a" stroke-width="1.1"/>
<text x="117.28" y="874.9" font-size="9.9" textLength="8.6" lengthAdjust="spacingAndGlyphs">14</text>
<line x1="153.22" y1="858.8" x2="153.22" y2="861.8" stroke="#2a2a2a" stroke-width="1.1"/>
<text x="148.92" y="874.9" font-size="9.9" textLength="8.6" lengthAdjust="spacingAndGlyphs">16</text>
<line x1="184.86" y1="858.8" x2="184.86" y2="861.8" stroke="#2a2a2a" stroke-width="1.1"/>
<text x="180.56" y="874.9" font-size="9.9" textLength="8.6" lengthAdjust="spacingAndGlyphs">18</text>
<line x1="216.5" y1="858.8" x2="216.5" y2="861.8" stroke="#2a2a2a" stroke-width="1.1"/>
<text x="212.2" y="874.9" font-size="9.9" textLength="8.6" lengthAdjust="spacingAndGlyphs">20</text>
<line x1="248.14" y1="858.8" x2="248.14" y2="861.8" stroke="#2a2a2a" stroke-width="1.1"/>
<text x="243.84" y="874.9" font-size="9.9" textLength="8.6" lengthAdjust="spacingAndGlyphs">22</text>
<line x1="279.78" y1="858.8" x2="279.78" y2="861.8" stroke="#2a2a2a" stroke-width="1.1"/>
<text x="275.48" y="874.9" font-size="9.9" textLength="8.6" lengthAdjust="spacingAndGlyphs">24</text>
<line x1="311.42" y1="858.8" x2="311.42" y2="861.8" stroke="#2a2a2a" stroke-width="1.1"/>
<text x="307.12" y="874.9" font-size="9.9" textLength="8.6" lengthAdjust="spacingAndGlyphs">26</text>
<path d="M58.3,839.94 L89.94,849.46 L121.58,853.14 L153.22,857.48 L184.86,853.05 L216.5,843.71 L248.14,834.19 L279.78,832.68 L311.42,838.62" fill="none" stroke="#2a2a2a" stroke-width="1.15" stroke-dasharray="1.6 1.4"/>
<path d="M58.3,839.28 L89.94,849.46 L121.58,854.08 L153.22,857.48 L184.86,854.46 L216.5,848.8 L248.14,837.77 L279.78,835.22 L311.42,839.94" fill="none" stroke="#2a2a2a" stroke-width="1.15"/>
<path d="M58.3,848.8 L89.94,853.24 L121.58,855.97 L153.22,857.48 L184.86,853.9 L216.5,837.49 L248.14,827.96 L279.78,831.45 L311.42,841.54" fill="none" stroke="#2a2a2a" stroke-width="1.15"/>
<path d="M58.3,823.91 L58.3,858.8 M56.9,823.91 L59.7,823.91 M56.9,858.8 L59.7,858.8" stroke="#2a2a2a" stroke-width="1.2" fill="none"/>
<path d="M89.94,842.77 L89.94,856.91 M88.54,842.77 L91.34,842.77 M88.54,856.91 L91.34,856.91" stroke="#2a2a2a" stroke-width="1.2" fill="none"/>
<path d="M121.58,850.31 L121.58,857.86 M120.18,850.31 L122.98,850.31 M120.18,857.86 L122.98,857.86" stroke="#2a2a2a" stroke-width="1.2" fill="none"/>
<path d="M184.86,850.31 L184.86,856.91 M183.46,850.31 L186.26,850.31 M183.46,856.91 L186.26,856.91" stroke="#2a2a2a" stroke-width="1.2" fill="none"/>
<path d="M216.5,834.28 L216.5,851.26 M215.1,834.28 L217.9,834.28 M215.1,851.26 L217.9,851.26" stroke="#2a2a2a" stroke-width="1.2" fill="none"/>
<path d="M248.14,824.85 L248.14,843.71 M246.74,824.85 L249.54,824.85 M246.74,843.71 L249.54,843.71" stroke="#2a2a2a" stroke-width="1.2" fill="none"/>
<path d="M279.78,827.68 L279.78,837.11 M278.38,827.68 L281.18,827.68 M278.38,837.11 L281.18,837.11" stroke="#2a2a2a" stroke-width="1.2" fill="none"/>
<path d="M311.42,834.28 L311.42,845.6 M310.02,834.28 L312.82,834.28 M310.02,845.6 L312.82,845.6" stroke="#2a2a2a" stroke-width="1.2" fill="none"/>
<rect x="56.3" y="837.28" width="4" height="4" fill="#fff" stroke="#2a2a2a" stroke-width="1"/>
<rect x="87.94" y="847.46" width="4" height="4" fill="#fff" stroke="#2a2a2a" stroke-width="1"/>
<rect x="119.58" y="852.08" width="4" height="4" fill="#fff" stroke="#2a2a2a" stroke-width="1"/>
<rect x="151.22" y="855.48" width="4" height="4" fill="#fff" stroke="#2a2a2a" stroke-width="1"/>
<rect x="182.86" y="852.46" width="4" height="4" fill="#fff" stroke="#2a2a2a" stroke-width="1"/>
<rect x="214.5" y="846.8" width="4" height="4" fill="#fff" stroke="#2a2a2a" stroke-width="1"/>
<rect x="246.14" y="835.77" width="4" height="4" fill="#fff" stroke="#2a2a2a" stroke-width="1"/>
<rect x="277.78" y="833.22" width="4" height="4" fill="#fff" stroke="#2a2a2a" stroke-width="1"/>
<rect x="309.42" y="837.94" width="4" height="4" fill="#fff" stroke="#2a2a2a" stroke-width="1"/>
<circle cx="58.3" cy="839.94" r="2.1" fill="#fff" stroke="#2a2a2a" stroke-width="1"/>
<circle cx="89.94" cy="849.46" r="2.1" fill="#fff" stroke="#2a2a2a" stroke-width="1"/>
<circle cx="121.58" cy="853.14" r="2.1" fill="#fff" stroke="#2a2a2a" stroke-width="1"/>
<circle cx="153.22" cy="857.48" r="2.1" fill="#fff" stroke="#2a2a2a" stroke-width="1"/>
<circle cx="184.86" cy="853.05" r="2.1" fill="#fff" stroke="#2a2a2a" stroke-width="1"/>
<circle cx="216.5" cy="843.71" r="2.1" fill="#fff" stroke="#2a2a2a" stroke-width="1"/>
<circle cx="248.14" cy="834.19" r="2.1" fill="#fff" stroke="#2a2a2a" stroke-width="1"/>
<circle cx="279.78" cy="832.68" r="2.1" fill="#fff" stroke="#2a2a2a" stroke-width="1"/>
<circle cx="311.42" cy="838.62" r="2.1" fill="#fff" stroke="#2a2a2a" stroke-width="1"/>
<circle cx="58.3" cy="848.8" r="2.2" fill="#2a2a2a"/>
<circle cx="89.94" cy="853.24" r="2.2" fill="#2a2a2a"/>
<circle cx="121.58" cy="855.97" r="2.2" fill="#2a2a2a"/>
<circle cx="153.22" cy="857.48" r="2.2" fill="#2a2a2a"/>
<circle cx="184.86" cy="853.9" r="2.2" fill="#2a2a2a"/>
<circle cx="216.5" cy="837.49" r="2.2" fill="#2a2a2a"/>
<circle cx="248.14" cy="827.96" r="2.2" fill="#2a2a2a"/>
<circle cx="279.78" cy="831.45" r="2.2" fill="#2a2a2a"/>
<circle cx="311.42" cy="841.54" r="2.2" fill="#2a2a2a"/>
<text x="161.9" y="536.6" font-size="13" textLength="45.5" lengthAdjust="spacingAndGlyphs">XMD8-92</text>
<text x="9.8" y="593.3" font-size="11" text-anchor="middle" textLength="47.6" lengthAdjust="spacingAndGlyphs" transform="rotate(-90 9.8 593.3)">G0 / G1 (%)</text>
<text x="9.8" y="703" font-size="11" text-anchor="middle" textLength="21.7" lengthAdjust="spacingAndGlyphs" transform="rotate(-90 9.8 703)">S (%)</text>
<text x="9.8" y="812.5" font-size="11" text-anchor="middle" textLength="42.8" lengthAdjust="spacingAndGlyphs" transform="rotate(-90 9.8 812.5)">G2 / M (%)</text>
<text x="170.3" y="892" font-size="9.9" textLength="29.8" lengthAdjust="spacingAndGlyphs">Time (h)</text>
<path d="M81.4,904.5 L83,904.5 M89.9,904.5 L91.9,904.5" stroke="#2a2a2a" stroke-width="1.1"/>
<circle cx="86.65" cy="904.5" r="1.8" fill="#fff" stroke="#2a2a2a" stroke-width="1.1"/>
<text x="94.8" y="907.4" font-size="9.3" textLength="20.7" lengthAdjust="spacingAndGlyphs">Empty</text>
<line x1="156.6" y1="907.6" x2="167.2" y2="907.6" stroke="#2a2a2a" stroke-width="1.1"/>
<circle cx="161.9" cy="907.6" r="2" fill="#bbb" stroke="#2a2a2a" stroke-width="1"/>
<line x1="159.9" y1="907.6" x2="163.9" y2="907.6" stroke="#2a2a2a" stroke-width="1"/>
<text x="169" y="910.5" font-size="9.3" textLength="33.8" lengthAdjust="spacingAndGlyphs">DN-MEK5</text>
<line x1="240.5" y1="907.6" x2="250.7" y2="907.6" stroke="#2a2a2a" stroke-width="1.1"/>
<circle cx="245.6" cy="907.6" r="1.9" fill="#2a2a2a"/>
<text x="253.4" y="910.8" font-size="9.3" textLength="32.5" lengthAdjust="spacingAndGlyphs">CA-MEK5</text>
<rect x="398.2" y="545.4" width="284.1" height="95" fill="none" stroke="#2a2a2a" stroke-width="1.1"/>
<line x1="395.2" y1="545.4" x2="398.2" y2="545.4" stroke="#2a2a2a" stroke-width="1.1"/>
<text x="377" y="548.9" font-size="9.9" textLength="12.6" lengthAdjust="spacingAndGlyphs">100</text>
<line x1="395.2" y1="569.15" x2="398.2" y2="569.15" stroke="#2a2a2a" stroke-width="1.1"/>
<text x="381" y="572.65" font-size="9.9" textLength="8.6" lengthAdjust="spacingAndGlyphs">75</text>
<line x1="395.2" y1="592.9" x2="398.2" y2="592.9" stroke="#2a2a2a" stroke-width="1.1"/>
<text x="381" y="596.4" font-size="9.9" textLength="8.6" lengthAdjust="spacingAndGlyphs">50</text>
<line x1="395.2" y1="616.65" x2="398.2" y2="616.65" stroke="#2a2a2a" stroke-width="1.1"/>
<text x="381" y="620.15" font-size="9.9" textLength="8.6" lengthAdjust="spacingAndGlyphs">25</text>
<path d="M413.9,582.36 L445.54,574.38 L477.18,584.82 L508.82,605.25 L540.46,610 L572.1,605.91 L603.74,596.89 L635.38,587.77 L667.02,579.6" fill="none" stroke="#2a2a2a" stroke-width="1.15" stroke-dasharray="1.6 1.4"/>
<path d="M413.9,582.36 L445.54,576.56 L477.18,587.2 L508.82,602.88 L540.46,611.42 L572.1,607.34 L603.74,598.31 L635.38,589.19 L667.02,577.7" fill="none" stroke="#2a2a2a" stroke-width="1.15"/>
<path d="M413.9,577.23 L445.54,571.14 L477.18,588.25 L508.82,608 L540.46,610.86 L572.1,606.77 L603.74,597.75 L635.38,588.62 L667.02,578.46" fill="none" stroke="#2a2a2a" stroke-width="1.15"/>
<path d="M413.9,562.5 L413.9,599.55 M412.5,562.5 L415.3,562.5 M412.5,599.55 L415.3,599.55" stroke="#2a2a2a" stroke-width="1.2" fill="none"/>
<path d="M445.54,563.92 L445.54,590.52 M444.14,563.92 L446.94,563.92 M444.14,590.52 L446.94,590.52" stroke="#2a2a2a" stroke-width="1.2" fill="none"/>
<path d="M477.18,574.85 L477.18,601.45 M475.78,574.85 L478.58,574.85 M475.78,601.45 L478.58,601.45" stroke="#2a2a2a" stroke-width="1.2" fill="none"/>
<path d="M508.82,591.95 L508.82,619.5 M507.42,591.95 L510.22,591.95 M507.42,619.5 L510.22,619.5" stroke="#2a2a2a" stroke-width="1.2" fill="none"/>
<path d="M540.46,603.82 L540.46,617.6 M539.06,603.82 L541.86,603.82 M539.06,617.6 L541.86,617.6" stroke="#2a2a2a" stroke-width="1.2" fill="none"/>
<path d="M572.1,597.65 L572.1,616.65 M570.7,597.65 L573.5,597.65 M570.7,616.65 L573.5,616.65" stroke="#2a2a2a" stroke-width="1.2" fill="none"/>
<path d="M603.74,585.77 L603.74,614.75 M602.34,585.77 L605.14,585.77 M602.34,614.75 L605.14,614.75" stroke="#2a2a2a" stroke-width="1.2" fill="none"/>
<path d="M635.38,576.75 L635.38,600.5 M633.98,576.75 L636.78,576.75 M633.98,600.5 L636.78,600.5" stroke="#2a2a2a" stroke-width="1.2" fill="none"/>
<path d="M667.02,572 L667.02,583.4 M665.62,572 L668.42,572 M665.62,583.4 L668.42,583.4" stroke="#2a2a2a" stroke-width="1.2" fill="none"/>
<circle cx="413.9" cy="582.36" r="2.1" fill="#bbb" stroke="#2a2a2a" stroke-width="1"/>
<circle cx="445.54" cy="576.56" r="2.1" fill="#bbb" stroke="#2a2a2a" stroke-width="1"/>
<circle cx="477.18" cy="587.2" r="2.1" fill="#bbb" stroke="#2a2a2a" stroke-width="1"/>
<circle cx="508.82" cy="602.88" r="2.1" fill="#bbb" stroke="#2a2a2a" stroke-width="1"/>
<circle cx="540.46" cy="611.42" r="2.1" fill="#bbb" stroke="#2a2a2a" stroke-width="1"/>
<circle cx="572.1" cy="607.34" r="2.1" fill="#bbb" stroke="#2a2a2a" stroke-width="1"/>
<circle cx="603.74" cy="598.31" r="2.1" fill="#bbb" stroke="#2a2a2a" stroke-width="1"/>
<circle cx="635.38" cy="589.19" r="2.1" fill="#bbb" stroke="#2a2a2a" stroke-width="1"/>
<circle cx="667.02" cy="577.7" r="2.1" fill="#bbb" stroke="#2a2a2a" stroke-width="1"/>
<circle cx="413.9" cy="582.36" r="2.1" fill="#fff" stroke="#2a2a2a" stroke-width="1"/>
<circle cx="445.54" cy="574.38" r="2.1" fill="#fff" stroke="#2a2a2a" stroke-width="1"/>
<circle cx="477.18" cy="584.82" r="2.1" fill="#fff" stroke="#2a2a2a" stroke-width="1"/>
<circle cx="508.82" cy="605.25" r="2.1" fill="#fff" stroke="#2a2a2a" stroke-width="1"/>
<circle cx="540.46" cy="610" r="2.1" fill="#fff" stroke="#2a2a2a" stroke-width="1"/>
<circle cx="572.1" cy="605.91" r="2.1" fill="#fff" stroke="#2a2a2a" stroke-width="1"/>
<circle cx="603.74" cy="596.89" r="2.1" fill="#fff" stroke="#2a2a2a" stroke-width="1"/>
<circle cx="635.38" cy="587.77" r="2.1" fill="#fff" stroke="#2a2a2a" stroke-width="1"/>
<circle cx="667.02" cy="579.6" r="2.1" fill="#fff" stroke="#2a2a2a" stroke-width="1"/>
<circle cx="413.9" cy="577.23" r="2.2" fill="#2a2a2a"/>
<circle cx="445.54" cy="571.14" r="2.2" fill="#2a2a2a"/>
<circle cx="477.18" cy="588.25" r="2.2" fill="#2a2a2a"/>
<circle cx="508.82" cy="608" r="2.2" fill="#2a2a2a"/>
<circle cx="540.46" cy="610.86" r="2.2" fill="#2a2a2a"/>
<circle cx="572.1" cy="606.77" r="2.2" fill="#2a2a2a"/>
<circle cx="603.74" cy="597.75" r="2.2" fill="#2a2a2a"/>
<circle cx="635.38" cy="588.62" r="2.2" fill="#2a2a2a"/>
<circle cx="667.02" cy="578.46" r="2.2" fill="#2a2a2a"/>
<rect x="398.2" y="655.3" width="284.8" height="94.6" fill="none" stroke="#2a2a2a" stroke-width="1.1"/>
<line x1="395.2" y1="655.3" x2="398.2" y2="655.3" stroke="#2a2a2a" stroke-width="1.1"/>
<text x="377" y="658.8" font-size="9.9" textLength="12.6" lengthAdjust="spacingAndGlyphs">100</text>
<line x1="395.2" y1="678.95" x2="398.2" y2="678.95" stroke="#2a2a2a" stroke-width="1.1"/>
<text x="381" y="682.45" font-size="9.9" textLength="8.6" lengthAdjust="spacingAndGlyphs">75</text>
<line x1="395.2" y1="702.6" x2="398.2" y2="702.6" stroke="#2a2a2a" stroke-width="1.1"/>
<text x="381" y="706.1" font-size="9.9" textLength="8.6" lengthAdjust="spacingAndGlyphs">50</text>
<line x1="395.2" y1="726.25" x2="398.2" y2="726.25" stroke="#2a2a2a" stroke-width="1.1"/>
<text x="381" y="729.75" font-size="9.9" textLength="8.6" lengthAdjust="spacingAndGlyphs">25</text>
<path d="M413.9,735.8 L445.54,733.63 L477.18,718.87 L508.82,698.44 L540.46,697.96 L572.1,705.91 L603.74,714.14 L635.38,722.66 L667.02,727.86" fill="none" stroke="#2a2a2a" stroke-width="1.15" stroke-dasharray="1.6 1.4"/>
<path d="M413.9,738.74 L445.54,736.66 L477.18,718.87 L508.82,695.98 L540.46,699.38 L572.1,707.33 L603.74,715.56 L635.38,724.07 L667.02,726.25" fill="none" stroke="#2a2a2a" stroke-width="1.15"/>
<path d="M413.9,738.74 L445.54,736.66 L477.18,713.29 L508.82,693.14 L540.46,698.82 L572.1,706.76 L603.74,714.99 L635.38,723.51 L667.02,724.17" fill="none" stroke="#2a2a2a" stroke-width="1.15"/>
<path d="M413.9,730.03 L413.9,743.28 M412.5,730.03 L415.3,730.03 M412.5,743.28 L415.3,743.28" stroke="#2a2a2a" stroke-width="1.2" fill="none"/>
<path d="M445.54,726.25 L445.54,740.44 M444.14,726.25 L446.94,726.25 M444.14,740.44 L446.94,740.44" stroke="#2a2a2a" stroke-width="1.2" fill="none"/>
<path d="M477.18,696.92 L477.18,732.87 M475.78,696.92 L478.58,696.92 M475.78,732.87 L478.58,732.87" stroke="#2a2a2a" stroke-width="1.2" fill="none"/>
<path d="M508.82,683.68 L508.82,710.17 M507.42,683.68 L510.22,683.68 M507.42,710.17 L510.22,710.17" stroke="#2a2a2a" stroke-width="1.2" fill="none"/>
<path d="M540.46,690.3 L540.46,709.22 M539.06,690.3 L541.86,690.3 M539.06,709.22 L541.86,709.22" stroke="#2a2a2a" stroke-width="1.2" fill="none"/>
<path d="M572.1,690.3 L572.1,722.47 M570.7,690.3 L573.5,690.3 M570.7,722.47 L573.5,722.47" stroke="#2a2a2a" stroke-width="1.2" fill="none"/>
<path d="M603.74,699.76 L603.74,728.62 M602.34,699.76 L605.14,699.76 M602.34,728.62 L605.14,728.62" stroke="#2a2a2a" stroke-width="1.2" fill="none"/>
<path d="M635.38,714.9 L635.38,731.93 M633.98,714.9 L636.78,714.9 M633.98,731.93 L636.78,731.93" stroke="#2a2a2a" stroke-width="1.2" fill="none"/>
<path d="M667.02,713.95 L667.02,734.76 M665.62,713.95 L668.42,713.95 M665.62,734.76 L668.42,734.76" stroke="#2a2a2a" stroke-width="1.2" fill="none"/>
<circle cx="413.9" cy="738.74" r="2.1" fill="#bbb" stroke="#2a2a2a" stroke-width="1"/>
<circle cx="445.54" cy="736.66" r="2.1" fill="#bbb" stroke="#2a2a2a" stroke-width="1"/>
<circle cx="477.18" cy="718.87" r="2.1" fill="#bbb" stroke="#2a2a2a" stroke-width="1"/>
<circle cx="508.82" cy="695.98" r="2.1" fill="#bbb" stroke="#2a2a2a" stroke-width="1"/>
<circle cx="540.46" cy="699.38" r="2.1" fill="#bbb" stroke="#2a2a2a" stroke-width="1"/>
<circle cx="572.1" cy="707.33" r="2.1" fill="#bbb" stroke="#2a2a2a" stroke-width="1"/>
<circle cx="603.74" cy="715.56" r="2.1" fill="#bbb" stroke="#2a2a2a" stroke-width="1"/>
<circle cx="635.38" cy="724.07" r="2.1" fill="#bbb" stroke="#2a2a2a" stroke-width="1"/>
<circle cx="667.02" cy="726.25" r="2.1" fill="#bbb" stroke="#2a2a2a" stroke-width="1"/>
<circle cx="413.9" cy="735.8" r="2.1" fill="#fff" stroke="#2a2a2a" stroke-width="1"/>
<circle cx="445.54" cy="733.63" r="2.1" fill="#fff" stroke="#2a2a2a" stroke-width="1"/>
<circle cx="477.18" cy="718.87" r="2.1" fill="#fff" stroke="#2a2a2a" stroke-width="1"/>
<circle cx="508.82" cy="698.44" r="2.1" fill="#fff" stroke="#2a2a2a" stroke-width="1"/>
<circle cx="540.46" cy="697.96" r="2.1" fill="#fff" stroke="#2a2a2a" stroke-width="1"/>
<circle cx="572.1" cy="705.91" r="2.1" fill="#fff" stroke="#2a2a2a" stroke-width="1"/>
<circle cx="603.74" cy="714.14" r="2.1" fill="#fff" stroke="#2a2a2a" stroke-width="1"/>
<circle cx="635.38" cy="722.66" r="2.1" fill="#fff" stroke="#2a2a2a" stroke-width="1"/>
<circle cx="667.02" cy="727.86" r="2.1" fill="#fff" stroke="#2a2a2a" stroke-width="1"/>
<circle cx="413.9" cy="738.74" r="2.2" fill="#2a2a2a"/>
<circle cx="445.54" cy="736.66" r="2.2" fill="#2a2a2a"/>
<circle cx="477.18" cy="713.29" r="2.2" fill="#2a2a2a"/>
<circle cx="508.82" cy="693.14" r="2.2" fill="#2a2a2a"/>
<circle cx="540.46" cy="698.82" r="2.2" fill="#2a2a2a"/>
<circle cx="572.1" cy="706.76" r="2.2" fill="#2a2a2a"/>
<circle cx="603.74" cy="714.99" r="2.2" fill="#2a2a2a"/>
<circle cx="635.38" cy="723.51" r="2.2" fill="#2a2a2a"/>
<circle cx="667.02" cy="724.17" r="2.2" fill="#2a2a2a"/>
<rect x="398.2" y="764.5" width="284.8" height="94.3" fill="none" stroke="#2a2a2a" stroke-width="1.1"/>
<line x1="395.2" y1="764.5" x2="398.2" y2="764.5" stroke="#2a2a2a" stroke-width="1.1"/>
<text x="377" y="768" font-size="9.9" textLength="12.6" lengthAdjust="spacingAndGlyphs">100</text>
<line x1="395.2" y1="788.08" x2="398.2" y2="788.08" stroke="#2a2a2a" stroke-width="1.1"/>
<text x="381" y="791.58" font-size="9.9" textLength="8.6" lengthAdjust="spacingAndGlyphs">75</text>
<line x1="395.2" y1="811.65" x2="398.2" y2="811.65" stroke="#2a2a2a" stroke-width="1.1"/>
<text x="381" y="815.15" font-size="9.9" textLength="8.6" lengthAdjust="spacingAndGlyphs">50</text>
<line x1="395.2" y1="835.22" x2="398.2" y2="835.22" stroke="#2a2a2a" stroke-width="1.1"/>
<text x="381" y="838.72" font-size="9.9" textLength="8.6" lengthAdjust="spacingAndGlyphs">25</text>
<line x1="413.9" y1="858.8" x2="413.9" y2="861.8" stroke="#2a2a2a" stroke-width="1.1"/>
<text x="409.6" y="874.9" font-size="9.9" textLength="8.6" lengthAdjust="spacingAndGlyphs">10</text>
<line x1="445.54" y1="858.8" x2="445.54" y2="861.8" stroke="#2a2a2a" stroke-width="1.1"/>
<text x="441.24" y="874.9" font-size="9.9" textLength="8.6" lengthAdjust="spacingAndGlyphs">12</text>
<line x1="477.18" y1="858.8" x2="477.18" y2="861.8" stroke="#2a2a2a" stroke-width="1.1"/>
<text x="472.88" y="874.9" font-size="9.9" textLength="8.6" lengthAdjust="spacingAndGlyphs">14</text>
<line x1="508.82" y1="858.8" x2="508.82" y2="861.8" stroke="#2a2a2a" stroke-width="1.1"/>
<text x="504.52" y="874.9" font-size="9.9" textLength="8.6" lengthAdjust="spacingAndGlyphs">16</text>
<line x1="540.46" y1="858.8" x2="540.46" y2="861.8" stroke="#2a2a2a" stroke-width="1.1"/>
<text x="536.16" y="874.9" font-size="9.9" textLength="8.6" lengthAdjust="spacingAndGlyphs">18</text>
<line x1="572.1" y1="858.8" x2="572.1" y2="861.8" stroke="#2a2a2a" stroke-width="1.1"/>
<text x="567.8" y="874.9" font-size="9.9" textLength="8.6" lengthAdjust="spacingAndGlyphs">20</text>
<line x1="603.74" y1="858.8" x2="603.74" y2="861.8" stroke="#2a2a2a" stroke-width="1.1"/>
<text x="599.44" y="874.9" font-size="9.9" textLength="8.6" lengthAdjust="spacingAndGlyphs">22</text>
<line x1="635.38" y1="858.8" x2="635.38" y2="861.8" stroke="#2a2a2a" stroke-width="1.1"/>
<text x="631.08" y="874.9" font-size="9.9" textLength="8.6" lengthAdjust="spacingAndGlyphs">24</text>
<line x1="667.02" y1="858.8" x2="667.02" y2="861.8" stroke="#2a2a2a" stroke-width="1.1"/>
<text x="662.72" y="874.9" font-size="9.9" textLength="8.6" lengthAdjust="spacingAndGlyphs">26</text>
<path d="M413.9,834.85 L445.54,844.37 L477.18,850.88 L508.82,853.05 L540.46,843.24 L572.1,840.32 L603.74,839.09 L635.38,841.35 L667.02,847.58" fill="none" stroke="#2a2a2a" stroke-width="1.15" stroke-dasharray="1.6 1.4"/>
<path d="M413.9,834.85 L445.54,846.54 L477.18,852.29 L508.82,854.46 L540.46,844.65 L572.1,841.73 L603.74,840.51 L635.38,842.77 L667.02,848.8" fill="none" stroke="#2a2a2a" stroke-width="1.15"/>
<path d="M413.9,836.17 L445.54,846.54 L477.18,851.73 L508.82,853.9 L540.46,844.09 L572.1,841.17 L603.74,839.94 L635.38,842.2 L667.02,848.8" fill="none" stroke="#2a2a2a" stroke-width="1.15"/>
<path d="M413.9,822.02 L413.9,847.96 M412.5,822.02 L415.3,822.02 M412.5,847.96 L415.3,847.96" stroke="#2a2a2a" stroke-width="1.2" fill="none"/>
<path d="M445.54,835.6 L445.54,854.56 M444.14,835.6 L446.94,835.6 M444.14,854.56 L446.94,854.56" stroke="#2a2a2a" stroke-width="1.2" fill="none"/>
<path d="M477.18,845.6 L477.18,855.03 M475.78,845.6 L478.58,845.6 M475.78,855.03 L478.58,855.03" stroke="#2a2a2a" stroke-width="1.2" fill="none"/>
<path d="M540.46,832.02 L540.46,853.33 M539.06,832.02 L541.86,832.02 M539.06,853.33 L541.86,853.33" stroke="#2a2a2a" stroke-width="1.2" fill="none"/>
<path d="M572.1,834.28 L572.1,848.43 M570.7,834.28 L573.5,834.28 M570.7,848.43 L573.5,848.43" stroke="#2a2a2a" stroke-width="1.2" fill="none"/>
<path d="M603.74,835.22 L603.74,846.54 M602.34,835.22 L605.14,835.22 M602.34,846.54 L605.14,846.54" stroke="#2a2a2a" stroke-width="1.2" fill="none"/>
<path d="M635.38,836.17 L635.38,847.01 M633.98,836.17 L636.78,836.17 M633.98,847.01 L636.78,847.01" stroke="#2a2a2a" stroke-width="1.2" fill="none"/>
<path d="M667.02,840.88 L667.02,857.39 M665.62,840.88 L668.42,840.88 M665.62,857.39 L668.42,857.39" stroke="#2a2a2a" stroke-width="1.2" fill="none"/>
<circle cx="413.9" cy="834.85" r="2.1" fill="#bbb" stroke="#2a2a2a" stroke-width="1"/>
<circle cx="445.54" cy="846.54" r="2.1" fill="#bbb" stroke="#2a2a2a" stroke-width="1"/>
<circle cx="477.18" cy="852.29" r="2.1" fill="#bbb" stroke="#2a2a2a" stroke-width="1"/>
<circle cx="508.82" cy="854.46" r="2.1" fill="#bbb" stroke="#2a2a2a" stroke-width="1"/>
<circle cx="540.46" cy="844.65" r="2.1" fill="#bbb" stroke="#2a2a2a" stroke-width="1"/>
<circle cx="572.1" cy="841.73" r="2.1" fill="#bbb" stroke="#2a2a2a" stroke-width="1"/>
<circle cx="603.74" cy="840.51" r="2.1" fill="#bbb" stroke="#2a2a2a" stroke-width="1"/>
<circle cx="635.38" cy="842.77" r="2.1" fill="#bbb" stroke="#2a2a2a" stroke-width="1"/>
<circle cx="667.02" cy="848.8" r="2.1" fill="#bbb" stroke="#2a2a2a" stroke-width="1"/>
<circle cx="413.9" cy="834.85" r="2.1" fill="#fff" stroke="#2a2a2a" stroke-width="1"/>
<circle cx="445.54" cy="844.37" r="2.1" fill="#fff" stroke="#2a2a2a" stroke-width="1"/>
<circle cx="477.18" cy="850.88" r="2.1" fill="#fff" stroke="#2a2a2a" stroke-width="1"/>
<circle cx="508.82" cy="853.05" r="2.1" fill="#fff" stroke="#2a2a2a" stroke-width="1"/>
<circle cx="540.46" cy="843.24" r="2.1" fill="#fff" stroke="#2a2a2a" stroke-width="1"/>
<circle cx="572.1" cy="840.32" r="2.1" fill="#fff" stroke="#2a2a2a" stroke-width="1"/>
<circle cx="603.74" cy="839.09" r="2.1" fill="#fff" stroke="#2a2a2a" stroke-width="1"/>
<circle cx="635.38" cy="841.35" r="2.1" fill="#fff" stroke="#2a2a2a" stroke-width="1"/>
<circle cx="667.02" cy="847.58" r="2.1" fill="#fff" stroke="#2a2a2a" stroke-width="1"/>
<circle cx="413.9" cy="836.17" r="2.2" fill="#2a2a2a"/>
<circle cx="445.54" cy="846.54" r="2.2" fill="#2a2a2a"/>
<circle cx="477.18" cy="851.73" r="2.2" fill="#2a2a2a"/>
<circle cx="508.82" cy="853.9" r="2.2" fill="#2a2a2a"/>
<circle cx="540.46" cy="844.09" r="2.2" fill="#2a2a2a"/>
<circle cx="572.1" cy="841.17" r="2.2" fill="#2a2a2a"/>
<circle cx="603.74" cy="839.94" r="2.2" fill="#2a2a2a"/>
<circle cx="635.38" cy="842.2" r="2.2" fill="#2a2a2a"/>
<circle cx="667.02" cy="848.8" r="2.2" fill="#2a2a2a"/>
<text x="509.9" y="536.6" font-size="13" textLength="61.2" lengthAdjust="spacingAndGlyphs">BAY11-7085</text>
<text x="365.4" y="593.5" font-size="11" text-anchor="middle" textLength="48.2" lengthAdjust="spacingAndGlyphs" transform="rotate(-90 365.4 593.5)">G0 / G1 (%)</text>
<text x="365.4" y="702.6" font-size="11" text-anchor="middle" textLength="21.3" lengthAdjust="spacingAndGlyphs" transform="rotate(-90 365.4 702.6)">S (%)</text>
<text x="365.4" y="811.8" font-size="11" text-anchor="middle" textLength="42.5" lengthAdjust="spacingAndGlyphs" transform="rotate(-90 365.4 811.8)">G2 / M (%)</text>
<text x="527.3" y="891.9" font-size="9.9" textLength="29" lengthAdjust="spacingAndGlyphs">Time (h)</text>
<path d="M449.9,907.2 L451.5,907.2 M457.8,907.2 L459.8,907.2" stroke="#2a2a2a" stroke-width="1.1"/>
<circle cx="454.85" cy="907.2" r="1.8" fill="#fff" stroke="#2a2a2a" stroke-width="1.1"/>
<text x="463.1" y="909.9" font-size="9.3" textLength="20.1" lengthAdjust="spacingAndGlyphs">Empty</text>
<line x1="514.4" y1="906.8" x2="525.5" y2="906.8" stroke="#2a2a2a" stroke-width="1.1"/>
<circle cx="519.95" cy="906.8" r="2" fill="#bbb" stroke="#2a2a2a" stroke-width="1"/>
<line x1="517.95" y1="906.8" x2="521.95" y2="906.8" stroke="#2a2a2a" stroke-width="1"/>
<text x="527.5" y="910.4" font-size="9.3" textLength="33.4" lengthAdjust="spacingAndGlyphs">DN-MEK5</text>
<line x1="588.9" y1="906.8" x2="599.1" y2="906.8" stroke="#2a2a2a" stroke-width="1.1"/>
<circle cx="594" cy="906.8" r="1.9" fill="#2a2a2a"/>
<text x="601.2" y="910.4" font-size="9.3" textLength="32.7" lengthAdjust="spacingAndGlyphs">CA-MEK5</text>
</svg>
</body></html>
